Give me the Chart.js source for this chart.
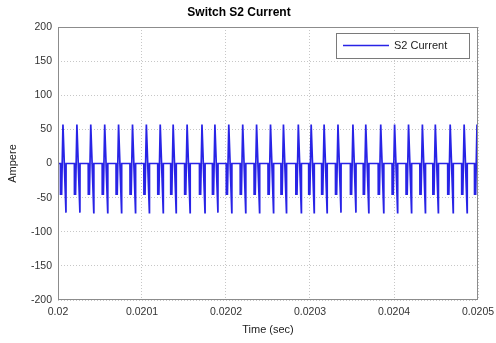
<!DOCTYPE html>
<html>
<head>
<meta charset="utf-8">
<script src="https://cdn.jsdelivr.net/npm/chart.js@4.4.1/dist/chart.umd.min.js"></script>
<style>
  html, body { margin: 0; padding: 0; background: #fff; }
  canvas { display: block; }
</style>
</head>
<body>
<canvas id="chart" width="496" height="343"></canvas>
<script>
// peak instants, in microseconds after t = 0.02 s
const peakTimesUs = [5.9, 22.5, 39.0, 55.6, 72.1, 88.7, 105.2, 121.7, 137.1, 153.7,
    171.4, 186.8, 203.3, 219.9, 236.4, 253.0, 268.4, 286.1, 301.4, 316.8,
    333.3, 351.1, 366.4, 384.2, 400.7, 417.3, 433.8, 449.2, 466.9, 483.5, 498.8];
// one switching cycle around each peak: time offset (us) and current (A)
const cycleOffsetsUs = [-3.0, -2.9, -1.6, 0, 3.6, 3.7];
const cycleValues = [0, -45, -45, 57, -72, 0];

const xTickValues = [0.02, 0.0201, 0.0202, 0.0203, 0.0204, 0.0205];
const xTickLabels = ["0.02", "0.0201", "0.0202", "0.0203", "0.0204", "0.0205"];
const yTickValues = [-200, -150, -100, -50, 0, 50, 100, 150, 200];

const points = [{ x: 0.02, y: 0 }];
for (const p of peakTimesUs) {
    for (let k = 0; k < cycleOffsetsUs.length; k++) {
        points.push({ x: 0.02 + (p + cycleOffsetsUs[k]) * 1e-6, y: cycleValues[k] });
    }
}

const font = { family: "Liberation Sans, Arial, sans-serif", size: 11 };
const tickFont = { family: font.family, size: 10.5 };

// box round the plot + legend in the top right corner
const framePlugin = {
    id: "frame",
    afterDatasetsDraw(c) {
        const a = c.chartArea;
        const ctx = c.ctx;
        ctx.save();
        ctx.strokeStyle = "#8c8c8c";
        ctx.lineWidth = 1;
        ctx.strokeRect(a.left + 0.5, a.top + 0.5, a.right - a.left - 1, a.bottom - a.top - 1);

        const ds = c.data.datasets[0];
        const bx = 336, by = 33, bw = 133, bh = 25;
        ctx.fillStyle = "#fff";
        ctx.fillRect(bx, by, bw, bh);
        ctx.strokeStyle = "#7a7a7a";
        ctx.strokeRect(bx + 0.5, by + 0.5, bw, bh);
        ctx.strokeStyle = ds.borderColor;
        ctx.lineWidth = 1.3;
        ctx.beginPath();
        ctx.moveTo(343, 45.5);
        ctx.lineTo(389, 45.5);
        ctx.stroke();
        ctx.fillStyle = "#222";
        ctx.font = "11px " + font.family;
        ctx.textBaseline = "middle";
        ctx.fillText(ds.label, 394, 46);
        ctx.restore();
    }
};

new Chart(document.getElementById("chart"), {
    type: "line",
    data: {
        datasets: [{
            label: "S2 Current",
            data: points,
            borderColor: "rgb(40,35,230)",
            borderWidth: 1.7,
            pointRadius: 0,
            tension: 0,
            fill: false
        }]
    },
    options: {
        responsive: false,
        animation: false,
        layout: { padding: { left: 0, right: 18, top: 0, bottom: 0 } },
        plugins: {
            legend: { display: false },
            tooltip: { enabled: false },
            title: {
                display: true,
                text: "Switch S2 Current",
                color: "#000",
                font: { family: font.family, size: 12, weight: "bold" },
                padding: { top: 5, bottom: 7.6 }
            }
        },
        scales: {
            x: {
                type: "linear",
                min: 0.02,
                max: 0.0205,
                afterBuildTicks: s => { s.ticks = xTickValues.map(v => ({ value: v })); },
                afterFit: s => { s.height = 43; s.paddingLeft = 0; s.paddingRight = 0; },
                ticks: {
                    color: "#333",
                    font: tickFont,
                    padding: 6,
                    maxRotation: 0,
                    callback: (v, i) => xTickLabels[i]
                },
                grid: { color: "rgba(0,0,0,0.22)", drawTicks: false },
                border: { display: false, dash: [1, 2] },
                title: {
                    display: true,
                    text: "Time (sec)",
                    color: "#222",
                    font: font,
                    padding: { top: 0, bottom: 6 }
                }
            },
            y: {
                min: -200,
                max: 200,
                afterBuildTicks: s => { s.ticks = yTickValues.map(v => ({ value: v })); },
                afterFit: s => { s.width = 58; s.paddingTop = 0; s.paddingBottom = 0; },
                ticks: { color: "#333", font: tickFont, padding: 6 },
                grid: { color: "rgba(0,0,0,0.22)", drawTicks: false },
                border: { display: false, dash: [1, 2] },
                title: {
                    display: true,
                    text: "Ampere",
                    color: "#222",
                    font: font,
                    padding: { top: 6, bottom: 0 }
                }
            }
        }
    },
    plugins: [framePlugin]
});
</script>
</body>
</html>
